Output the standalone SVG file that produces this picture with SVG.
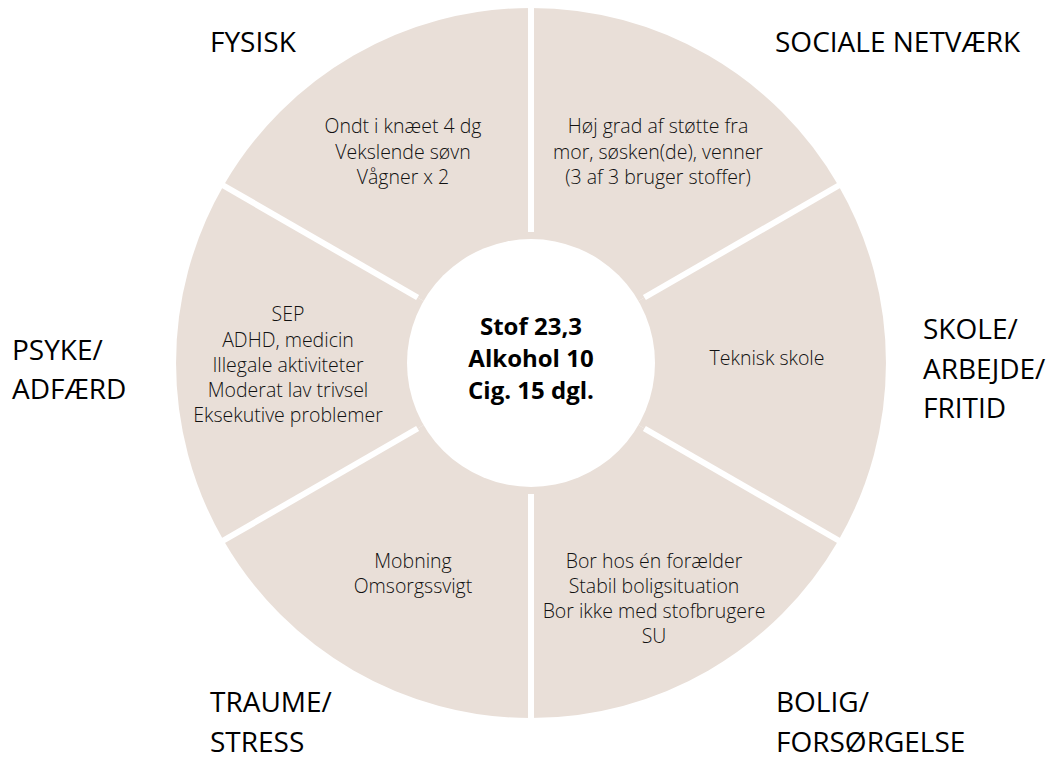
<svg xmlns="http://www.w3.org/2000/svg" width="1062" height="761" viewBox="0 0 1062 761">
<style>
.sector{fill:#E9DFD8;}
.item{font-family:"Open Sans","Liberation Sans",sans-serif;font-size:19.5px;font-weight:300;fill:#111;text-anchor:middle;}
.cat{font-family:"Open Sans","Liberation Sans",sans-serif;font-size:28px;fill:#000;}
.center{font-family:"Open Sans","Liberation Sans",sans-serif;font-size:24px;font-weight:bold;fill:#000;text-anchor:middle;}
.div{stroke:#fff;stroke-width:6;}
</style>
<rect width="1062" height="761" fill="#fff"/>
<g id="fysisk">
<path class="sector" d="M531,363 L223.6,185.5 A355,355 0 0 1 531,8 Z"/>
<text class="item"><tspan x="403" y="133">Ondt i knæet 4 dg</tspan><tspan x="403" y="159">Vekslende søvn</tspan><tspan x="403" y="184">Vågner x 2</tspan></text>
<text class="cat" x="210" y="52">FYSISK</text>
</g>
<g id="sociale-netvaerk">
<path class="sector" d="M531,363 L531,8 A355,355 0 0 1 838.4,185.5 Z"/>
<text class="item"><tspan x="658" y="133">Høj grad af støtte fra</tspan><tspan x="658" y="159">mor, søsken(de), venner</tspan><tspan x="658" y="184">(3 af 3 bruger stoffer)</tspan></text>
<text class="cat" x="775" y="52">SOCIALE NETVÆRK</text>
</g>
<g id="skole-arbejde-fritid">
<path class="sector" d="M531,363 L838.4,185.5 A355,355 0 0 1 838.4,540.5 Z"/>
<text class="item" x="767" y="365">Teknisk skole</text>
<text class="cat"><tspan x="923" y="339">SKOLE/</tspan><tspan x="923" y="379">ARBEJDE/</tspan><tspan x="923" y="418">FRITID</tspan></text>
</g>
<g id="bolig-forsoergelse">
<path class="sector" d="M531,363 L838.4,540.5 A355,355 0 0 1 531,718 Z"/>
<text class="item"><tspan x="654" y="568">Bor hos én forælder</tspan><tspan x="654" y="593">Stabil boligsituation</tspan><tspan x="654" y="618">Bor ikke med stofbrugere</tspan><tspan x="654" y="643">SU</tspan></text>
<text class="cat"><tspan x="776" y="712">BOLIG/</tspan><tspan x="776" y="752">FORSØRGELSE</tspan></text>
</g>
<g id="traume-stress">
<path class="sector" d="M531,363 L531,718 A355,355 0 0 1 223.6,540.5 Z"/>
<text class="item"><tspan x="413" y="568">Mobning</tspan><tspan x="413" y="593">Omsorgssvigt</tspan></text>
<text class="cat"><tspan x="210" y="712">TRAUME/</tspan><tspan x="210" y="752">STRESS</tspan></text>
</g>
<g id="psyke-adfaerd">
<path class="sector" d="M531,363 L223.6,540.5 A355,355 0 0 1 223.6,185.5 Z"/>
<text class="item"><tspan x="288" y="321">SEP</tspan><tspan x="288" y="347">ADHD, medicin</tspan><tspan x="288" y="372">Illegale aktiviteter</tspan><tspan x="288" y="397">Moderat lav trivsel</tspan><tspan x="288" y="422">Eksekutive problemer</tspan></text>
<text class="cat"><tspan x="12" y="360">PSYKE/</tspan><tspan x="12" y="399">ADFÆRD</tspan></text>
</g>
<g id="dividers">
<line class="div" x1="531" y1="232" x2="531" y2="3"/>
<line class="div" x1="531" y1="494" x2="531" y2="723"/>
<line class="div" x1="417.6" y1="297.5" x2="219" y2="183"/>
<line class="div" x1="644.4" y1="297.5" x2="843" y2="183"/>
<line class="div" x1="417.6" y1="428.5" x2="219" y2="543"/>
<line class="div" x1="644.4" y1="428.5" x2="843" y2="543"/>
</g>
<g id="center">
<circle cx="531" cy="363" r="124" fill="#fff"/>
<text class="center"><tspan x="531" y="335">Stof 23,3</tspan><tspan x="531" y="367">Alkohol 10</tspan><tspan x="531" y="399">Cig. 15 dgl.</tspan></text>
</g>
</svg>
